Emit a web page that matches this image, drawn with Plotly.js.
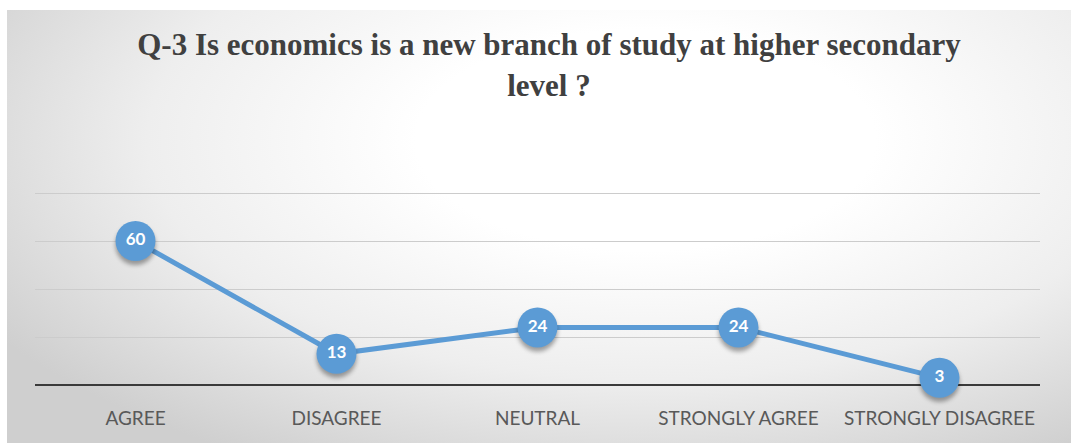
<!DOCTYPE html>
<html>
<head>
<meta charset="utf-8">
<script src="https://cdn.plot.ly/plotly-3.0.1.min.js"></script>
<style>
html,body{margin:0;padding:0;background:#ffffff;}
#wrap{position:relative;width:1071px;height:443px;overflow:hidden;background:#ffffff;}
#bg{position:absolute;left:7px;top:10px;width:1064px;height:433px;
 background:radial-gradient(ellipse 72% 85% at 60% 30%, #ffffff 0%, #ffffff 30%, #eeeeee 65%, #cfcfcf 100%);}
#chart{position:absolute;left:0;top:0;width:1071px;height:443px;}
#chart .scatterlayer .points path{filter:drop-shadow(0px 4px 2px rgba(0,0,0,0.35));}
</style>
</head>
<body>
<div id="wrap">
<div id="bg"></div>
<div id="chart"></div>
</div>
<script>
const categories = ["AGREE", "DISAGREE", "NEUTRAL", "STRONGLY AGREE", "STRONGLY DISAGREE"];
const values = [60, 13, 24, 24, 3];
const chartTitle = "Q-3 Is economics is a new branch of study at higher secondary<br>level ?";

const trace = {
  x: categories,
  y: values,
  type: "scatter",
  mode: "lines+markers+text",
  text: values.map(String),
  textposition: "middle center",
  textfont: {family: "Lato, 'Open Sans', sans-serif", size: 17, color: "#ffffff", weight: "bold"},
  line: {color: "#5B9BD5", width: 5},
  marker: {color: "#5B9BD5", size: 40, line: {width: 0}},
  cliponaxis: false,
  hoverinfo: "none"
};

const layout = {
  width: 1071,
  height: 443,
  margin: {l: 35, r: 31, t: 190, b: 58},
  paper_bgcolor: "rgba(0,0,0,0)",
  plot_bgcolor: "rgba(0,0,0,0)",
  showlegend: false,
  title: {
    text: chartTitle,
    font: {family: "'Liberation Serif', 'Times New Roman', serif", size: 31, color: "#404040", weight: "bold"},
    xref: "container", x: 0.5126, xanchor: "center",
    yref: "container", y: 0.875, yanchor: "top"
  },
  xaxis: {
    type: "category",
    range: [-0.5, 4.5],
    showgrid: false,
    zeroline: false,
    showline: false,
    ticks: "",
    tickfont: {family: "Lato, 'Open Sans', sans-serif", size: 19, color: "#595959"},
    ticklabelstandoff: 20
  },
  yaxis: {
    range: [0, 81.25],
    tickvals: [0, 20, 40, 60, 80],
    showticklabels: false,
    showgrid: true,
    gridcolor: "#cccccc",
    gridwidth: 1,
    zeroline: true,
    zerolinecolor: "#3a3a3a",
    zerolinewidth: 2,
    showline: false,
    ticks: ""
  }
};

Plotly.newPlot("chart", [trace], layout, {staticPlot: true, displayModeBar: false});
</script>
</body>
</html>
